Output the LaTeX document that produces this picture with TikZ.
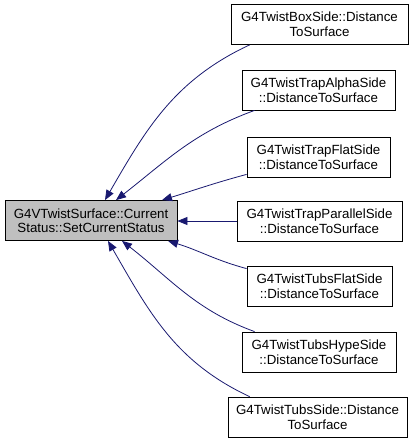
\documentclass[tikz,border=0pt]{standalone}
\usepackage{fontspec}
\setmainfont{Liberation Sans}
\usetikzlibrary{arrows.meta,calc}
\definecolor{edgecol}{HTML}{191970}
\definecolor{mainfill}{HTML}{BFBFBF}
\begin{document}
\begin{tikzpicture}[x=1pt,y=-1pt,
  box/.style={draw=black,line width=0.8pt,fill=white,minimum height=40pt,inner sep=0pt,align=center,font=\fontsize{13.3}{14.5}\selectfont},
  mainbox/.style={box,fill=mainfill},
  link/.style={draw=edgecol,line width=0.8pt,-{Triangle[length=10pt,width=8pt]}}]
\useasboundingbox (0,0) rectangle (416,443);
\node[mainbox,minimum width=172pt] (m) at (91,220.5) {G4VTwistSurface::Current\\Status::SetCurrentStatus};
\node[box,minimum width=177pt] (b1) at (319.5,24.5) {G4TwistBoxSide::Distance\\ToSurface};
\node[box,minimum width=153pt] (b2) at (318.5,90) {G4TwistTrapAlphaSide\\::DistanceToSurface};
\node[box,minimum width=143pt] (b3) at (318.5,157) {G4TwistTrapFlatSide\\::DistanceToSurface};
\node[box,minimum width=165pt] (b4) at (319.5,221) {G4TwistTrapParallelSide\\::DistanceToSurface};
\node[box,minimum width=145pt] (b5) at (319.5,286) {G4TwistTubsFlatSide\\::DistanceToSurface};
\node[box,minimum width=154pt] (b6) at (319,352) {G4TwistTubsHypeSide\\::DistanceToSurface};
\node[box,minimum width=179pt] (b7) at (317.5,417) {G4TwistTubsSide::Distance\\ToSurface};
\draw[link] ($(b1.south west)+(19pt,0pt)$) to[out=205,in=60] ($(m.north)+(14pt,0pt)$);
\draw[link] ($(b2.south west)+(13pt,0pt)$) to[out=200,in=38] ($(m.north)+(25pt,0pt)$);
\draw[link] ($(b3.south west)+(0pt,3pt)$) to[out=195,in=17] ($(m.north)+(71pt,0pt)$);
\draw[link] (b4.west) -- (m.east |- b4.west);
\draw[link] ($(b5.north west)+(0pt,-3pt)$) to[out=165,in=-17] ($(m.south)+(77pt,0pt)$);
\draw[link] ($(b6.north west)+(13pt,0pt)$) to[out=160,in=-38] ($(m.south)+(31pt,0pt)$);
\draw[link] ($(b7.north west)+(22pt,0pt)$) to[out=155,in=-60] ($(m.south)+(17pt,0pt)$);
\end{tikzpicture}
\end{document}
